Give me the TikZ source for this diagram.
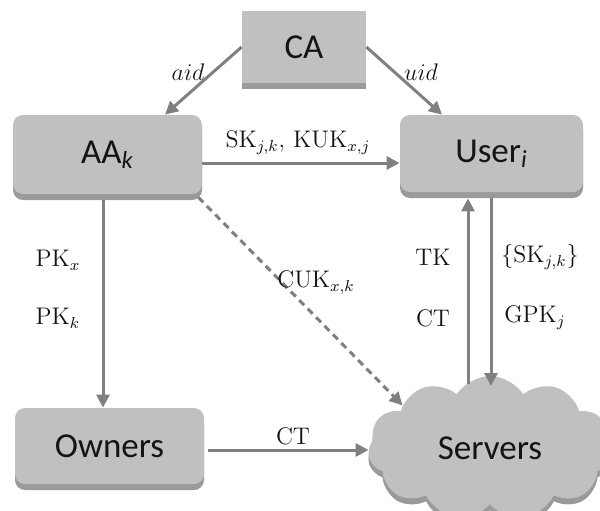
\documentclass[tikz,border=0pt]{standalone}
\usepackage[no-math]{fontspec}
\setmainfont{Carlito}
\usetikzlibrary{shapes.symbols,calc,arrows.meta,shadows}
\definecolor{boxgray}{HTML}{C0C0C0}
\definecolor{shadowgray}{HTML}{9A9A9A}
\definecolor{linegray}{HTML}{808080}
\definecolor{inkdark}{HTML}{141414}
\begin{document}
\begin{tikzpicture}[x=0.5pt,y=-0.5pt,
  entity/.style={fill=boxgray, draw=none, inner sep=0pt, text=inkdark,
    font=\fontsize{17.5}{20}\selectfont,
    general shadow={fill=shadowgray, shadow yshift=-3pt, shadow xshift=0pt}},
  roundbox/.style={entity, rounded corners=5pt},
  lab/.style={inner sep=0pt, text=inkdark, font=\fontsize{12}{14}\selectfont},
  arr/.style={draw=linegray, line width=1.5pt,
    -{Triangle[length=6.5pt,width=6.5pt]}},
  dasharr/.style={arr, dash pattern=on 3.5pt off 2.5pt}]
\useasboundingbox (0,0) rectangle (600,510);
\clip (0,0) rectangle (600,510);

% boxes
\node[entity, minimum width=62pt, minimum height=36pt,
  general shadow={fill=shadowgray, shadow yshift=-2.5pt, shadow xshift=0pt}]
  (CA) at (304,47) {CA};
\node[roundbox, minimum width=94.5pt, minimum height=39.5pt]
  (AA) at (107.5,154.5) {AA\textsubscript{\textit{k}}};
\node[roundbox, minimum width=91.5pt, minimum height=38.5pt]
  (User) at (491.5,153.5) {User\textsubscript{\textit{i}}};
\node[roundbox, minimum width=94.5pt, minimum height=38pt]
  (Owners) at (109.5,446) {Owners};
\node[entity, cloud, cloud puffs=11, cloud puff arc=115, aspect=1.7,
  minimum width=122pt, minimum height=72pt,
  general shadow={fill=shadowgray, shadow yshift=-2pt, shadow xshift=0pt}]
  (Servers) at (490,448) {Servers};

% connectors
\draw[arr] (CA.west) -- ($(AA.north)+(57.5,0)$);
\draw[arr] (CA.east) -- ($(User.north)+(-49.5,0)$);
\draw[arr] ($(AA.east)+(0,8.5)$) -- ($(User.west)+(0,9.5)$);
\draw[arr] ($(AA.south)+(-4.5,6)$) -- ($(Owners.north)+(-6.5,0)$);
\draw[dasharr] ($(AA.south east)+(-4,3)$) -- (Servers.154);
\coordinate (ownout) at ($(Owners.east)+(4,4)$);
\draw[arr] (ownout) -- (ownout -| Servers.west);
\coordinate (upbot) at ($(Servers.center)+(-22,-64)$);
\coordinate (uptop) at ($(User.south)+(-23.5,6)$);
\draw[arr] (upbot) -- (uptop);
\coordinate (dntop) at ($(User.south)+(-0.5,6)$);
\coordinate (dnbot) at ($(Servers.center)+(1,-62)$);
\draw[arr] (dntop) -- (dnbot);

% labels
\node[lab] (laid) at (188,72) {$aid$};
\node[lab] (luid) at (421,72) {$uid$};
\node[lab] (lsk) at (298,143) {$\mathrm{SK}_{j,k},\,\mathrm{KUK}_{x,j}$};
\node[lab] (lpkx) at (58,260) {$\mathrm{PK}_x$};
\node[lab] (lpkk) at (58,318) {$\mathrm{PK}_k$};
\node[lab] (lcuk) at (316,283) {$\mathrm{CUK}_{x,k}$};
\node[lab] (ltk) at (433,257) {$\mathrm{TK}$};
\node[lab] (lctu) at (433,318) {$\mathrm{CT}$};
\node[lab] (lskb) at (540,257) {$\bigl\{\mathrm{SK}_{j,k}\bigr\}$};
\node[lab] (lgpk) at (535,318) {$\mathrm{GPK}_j$};
\node[lab] (lcto) at (293,436) {$\mathrm{CT}$};
\end{tikzpicture}
\end{document}
